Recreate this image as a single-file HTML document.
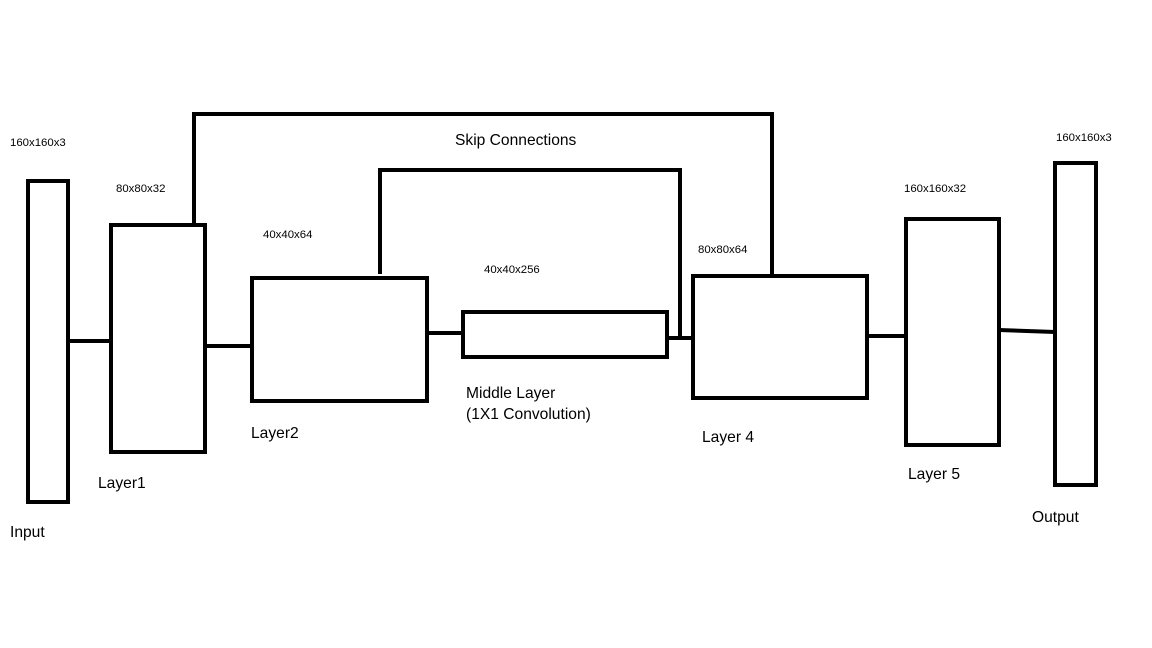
<!DOCTYPE html>
<html><head><meta charset="utf-8"><style>
html,body{margin:0;padding:0;background:#fff;}
svg{display:block;}
text{font-family:"Liberation Sans",sans-serif;fill:#000;}
.s{font-size:11.4px;}
.l{font-size:15.6px;}
</style></head><body>
<svg width="1152" height="648" viewBox="0 0 1152 648" xmlns="http://www.w3.org/2000/svg">
<g fill="none" stroke="#000" stroke-width="4">
<rect x="28" y="181" width="40" height="321"/>
<rect x="111" y="225" width="94" height="227"/>
<rect x="252" y="278" width="175" height="123"/>
<rect x="463" y="312" width="204" height="45"/>
<rect x="693" y="276" width="174" height="122"/>
<rect x="906" y="219" width="93" height="226"/>
<rect x="1055" y="163" width="41" height="322"/>
<line x1="68" y1="341" x2="111" y2="341"/>
<line x1="205" y1="346" x2="252" y2="346"/>
<line x1="427" y1="333" x2="463" y2="333"/>
<line x1="667" y1="338" x2="693" y2="338"/>
<line x1="867" y1="336" x2="906" y2="336"/>
<line x1="999" y1="330" x2="1055" y2="332"/>
<polyline points="194,225 194,114 772,114 772,276"/>
<polyline points="380,274 380,170 680,170 680,338"/>
</g>
<text class="s" x="10" y="146">160x160x3</text>
<text class="s" x="116" y="192">80x80x32</text>
<text class="s" x="263" y="238">40x40x64</text>
<text class="s" x="484" y="273">40x40x256</text>
<text class="s" x="698" y="253">80x80x64</text>
<text class="s" x="904" y="192">160x160x32</text>
<text class="s" x="1056" y="141">160x160x3</text>
<text class="l" x="455" y="145">Skip Connections</text>
<text class="l" x="10" y="537">Input</text>
<text class="l" x="98" y="488">Layer1</text>
<text class="l" x="251" y="438">Layer2</text>
<text class="l" x="466" y="398">Middle Layer</text>
<text class="l" x="466" y="419">(1X1 Convolution)</text>
<text class="l" x="702" y="442">Layer 4</text>
<text class="l" x="908" y="479">Layer 5</text>
<text class="l" x="1032" y="522">Output</text>
</svg>
</body></html>
